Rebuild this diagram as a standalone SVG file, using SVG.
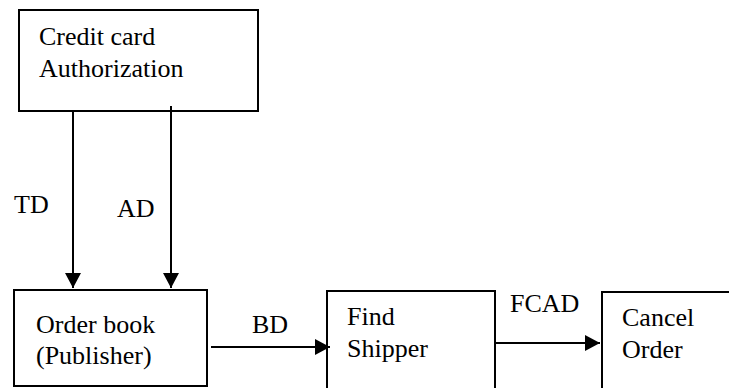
<svg xmlns="http://www.w3.org/2000/svg" width="729" height="388" viewBox="0 0 729 388">
<defs>
<style>
.box{fill:#fff;stroke:#000;stroke-width:2}
text{font-family:'Liberation Serif','Times New Roman',Times,serif;font-size:26px;fill:#000}
.c{stroke:#000;stroke-width:2;fill:none}
</style>
<marker id="ah" markerUnits="userSpaceOnUse" markerWidth="16" markerHeight="16" viewBox="0 0 16 16" refX="15" refY="8" orient="auto">
<path d="M0,0 L15,8 L0,16 Z" fill="#000"/>
</marker>
</defs>
<rect width="729" height="388" fill="#fff"/>
<g id="credit">
<rect class="box" x="19" y="10" width="239" height="101"/>
<text font-family="Liberation Serif, serif" x="39" y="45">Credit card</text>
<text font-family="Liberation Serif, serif" x="39" y="77">Authorization</text>
</g>
<g id="order">
<rect class="box" x="14" y="290" width="193" height="96"/>
<text font-family="Liberation Serif, serif" x="36" y="333">Order book</text>
<text font-family="Liberation Serif, serif" x="36" y="364">(Publisher)</text>
</g>
<g id="shipper">
<path class="box" d="M327,392 V291 H495 V392"/>
<text font-family="Liberation Serif, serif" x="347" y="325">Find</text>
<text font-family="Liberation Serif, serif" x="347" y="357">Shipper</text>
</g>
<g id="cancel">
<path class="box" d="M602,392 V292 H735"/>
<text font-family="Liberation Serif, serif" x="622" y="326">Cancel</text>
<text font-family="Liberation Serif, serif" x="622" y="358">Order</text>
</g>
<g id="connectors">
<line class="c" x1="73" y1="111" x2="73" y2="288" marker-end="url(#ah)"/>
<line class="c" x1="171" y1="106" x2="171" y2="288" stroke-width="2.5" marker-end="url(#ah)"/>
<line class="c" x1="211" y1="347" x2="330" y2="347" marker-end="url(#ah)"/>
<line class="c" x1="495" y1="343" x2="600" y2="343" marker-end="url(#ah)"/>
<text font-family="Liberation Serif, serif" x="14" y="213">TD</text>
<text font-family="Liberation Serif, serif" x="117" y="217">AD</text>
<text font-family="Liberation Serif, serif" x="252" y="333">BD</text>
<text font-family="Liberation Serif, serif" x="510" y="312">FCAD</text>
</g>
</svg>
